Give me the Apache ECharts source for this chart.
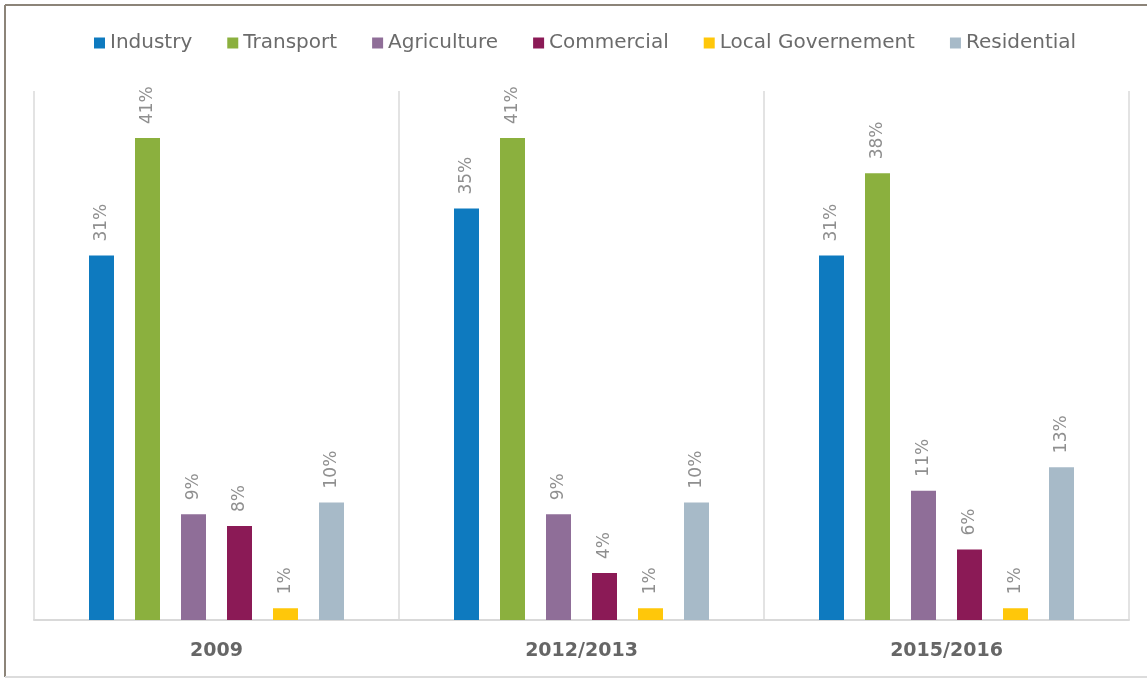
<!DOCTYPE html>
<html>
<head>
<meta charset="utf-8">
<script src="https://cdn.jsdelivr.net/npm/echarts@6/dist/echarts.min.js"></script>
<style>
  html, body { margin: 0; padding: 0; background: #ffffff; }
  #chart { width: 1147px; height: 679px; }
</style>
</head>
<body>
<div id="chart"></div>
<script>
// Periods on the category axis
const periods = ['2009', '2012/2013', '2015/2016'];

// Share of emissions by sector (%)
const industry = [31, 35, 31];
const transport = [41, 41, 38];
const agriculture = [9, 9, 11];
const commercial = [8, 4, 6];
const localGovernment = [1, 1, 1];
const residential = [10, 10, 13];

const sectorNames = ['Industry', 'Transport', 'Agriculture', 'Commercial', 'Local Governement', 'Residential'];
const sectorValues = [industry, transport, agriculture, commercial, localGovernment, residential];
const sectorColors = ['#0e7abf', '#8bb03e', '#8f6e98', '#8b1a56', '#ffc70a', '#a7bac8'];

const baseFont = '"DejaVu Sans", sans-serif';

const chart = echarts.init(document.getElementById('chart'), null, { renderer: 'canvas' });

chart.setOption({
  backgroundColor: '#ffffff',
  animation: false,
  legend: {
    top: 33,
    left: 94,
    padding: 0,
    itemWidth: 11,
    itemHeight: 11,
    itemGap: 35,
    icon: 'rect',
    textStyle: { fontFamily: baseFont, fontSize: 20, color: '#6b6b6b' },
    data: sectorNames
  },
  grid: { left: 34, right: 18, top: 91, bottom: 59, containLabel: false },
  xAxis: {
    type: 'category',
    data: periods,
    axisLine: { lineStyle: { color: '#d9d9d9', width: 2 } },
    axisTick: { show: false },
    splitLine: { show: true, lineStyle: { color: '#e3e3e3', width: 2 } },
    axisLabel: {
      margin: 22,
      fontFamily: baseFont,
      fontSize: 19,
      fontWeight: 'bold',
      color: '#666666'
    }
  },
  yAxis: {
    type: 'value',
    min: 0,
    max: 45,
    show: false,
    splitLine: { show: false }
  },
  series: sectorNames.map((name, i) => ({
    name: name,
    type: 'bar',
    data: sectorValues[i],
    barWidth: 25,
    barGap: '84%',
    itemStyle: { color: sectorColors[i] },
    label: {
      show: true,
      position: 'top',
      rotate: 90,
      align: 'left',
      verticalAlign: 'middle',
      distance: 14,
      fontFamily: baseFont,
      fontSize: 17,
      color: '#8f8f8f',
      formatter: '{c}%'
    }
  })),
  graphic: [
    { type: 'line', shape: { x1: 5, y1: 5, x2: 1147, y2: 5 }, style: { stroke: '#8c8479', lineWidth: 2 }, silent: true },
    { type: 'line', shape: { x1: 5, y1: 5, x2: 5, y2: 677 }, style: { stroke: '#8c8479', lineWidth: 2 }, silent: true },
    { type: 'line', shape: { x1: 5, y1: 677, x2: 1147, y2: 677 }, style: { stroke: '#dcdcdc', lineWidth: 2 }, silent: true }
  ]
});
</script>
</body>
</html>
